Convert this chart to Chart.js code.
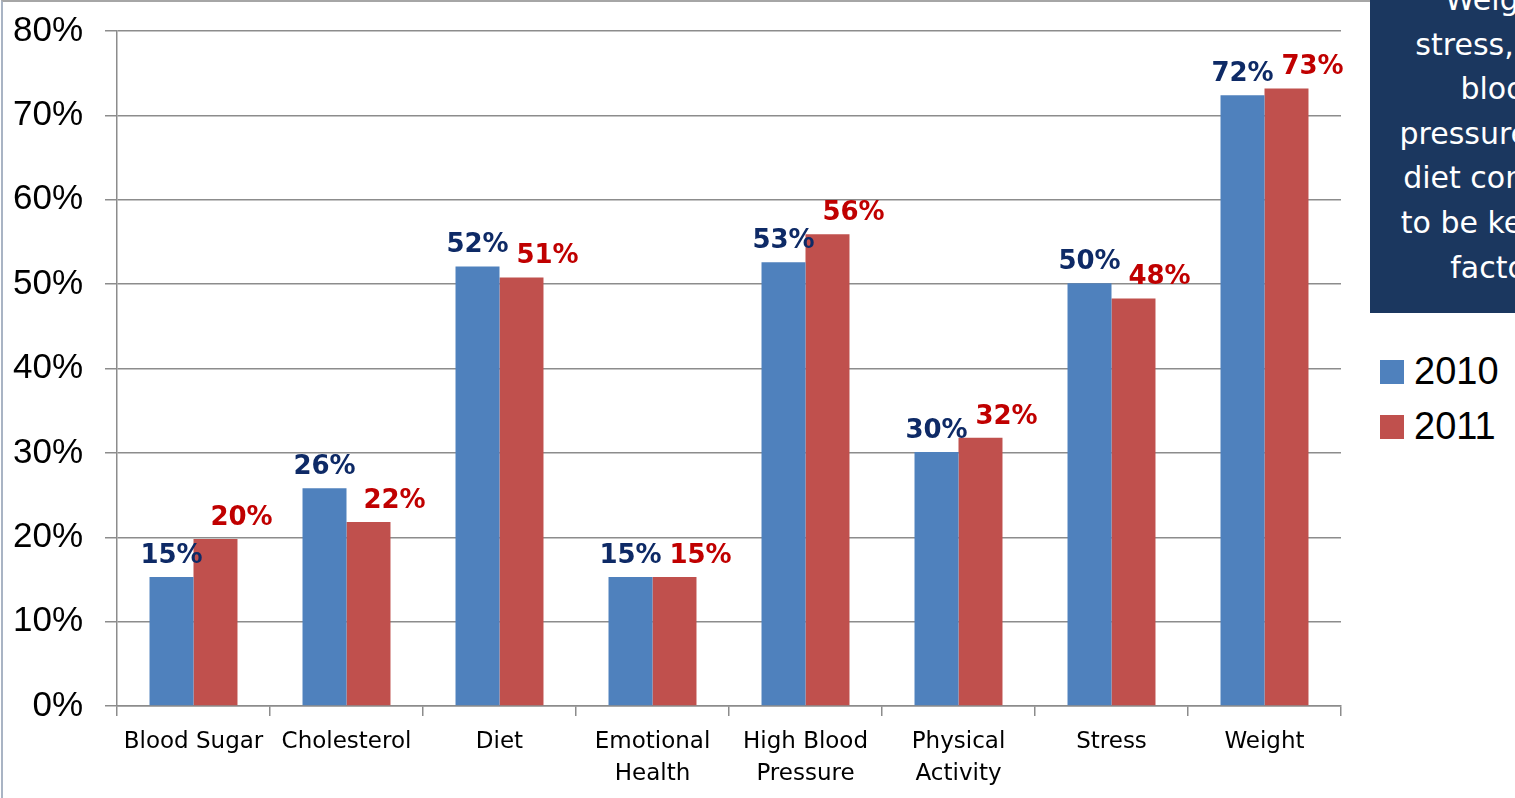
<!DOCTYPE html>
<html>
<head>
<meta charset="utf-8">
<title>Health risk factors 2010 vs 2011</title>
<script src="https://cdn.jsdelivr.net/npm/chart.js@4.4.1/dist/chart.umd.min.js"></script>
<style>
  html, body { margin: 0; padding: 0; background: #fff; overflow: hidden; }
  #wrap { position: relative; width: 1515px; height: 798px; overflow: hidden; }
  #frame {
    position: absolute; left: 1px; top: 0; width: 1400px; height: 798px;
    border-left: 2px solid #a9b4c4; border-top: 2px solid #a6a6a6; box-sizing: border-box;
  }
  #chartBox { position: absolute; left: 0; top: 0; width: 1360px; height: 798px; }
  #note {
    position: absolute; left: 1370px; top: 0; width: 270px; height: 313px;
    background: #1b375f; color: #fff; overflow: hidden;
    font-family: "DejaVu Sans", sans-serif; font-size: 30px;
  }
  #note div { position: absolute; left: -3px; top: -22px; width: 100%; text-align: center; line-height: 44.6px; }
  #legend { position: absolute; left: 1380px; top: 344px; font-family: "Liberation Sans", sans-serif; font-size: 38px; }
  #legend .item { display: flex; align-items: center; height: 55px; }
  #legend .sw { width: 24px; height: 24px; margin-right: 10px; }
</style>
</head>
<body>
<div id="wrap">
  <div id="frame"></div>
  <div id="chartBox"><canvas id="myChart"></canvas></div>
  <div id="note"><div>Weight,<br>stress, high<br>blood<br>pressure, and<br>diet continue<br>to be key risk<br>factors</div></div>
  <div id="legend"></div>
</div>
<script>
// categories and yearly shares (percent)
const categories = [
  ["Blood Sugar"], ["Cholesterol"], ["Diet"], ["Emotional", "Health"],
  ["High Blood", "Pressure"], ["Physical", "Activity"], ["Stress"], ["Weight"]
];
const years = ["2010", "2011"];
const values2010 = [15.3, 25.8, 52.1, 15.3, 52.6, 30.1, 50.1, 72.4];
const values2011 = [19.8, 21.8, 50.8, 15.3, 55.9, 31.8, 48.3, 73.2];
const yTicks = [0, 10, 20, 30, 40, 50, 60, 70, 80];

const barColors = ["#4F81BD", "#C0504D"];
const labelColors = ["#0e2a66", "#c00000"];
const gridColor = "#8c8c8c";

// value labels above each bar; 2011 labels sit a bit to the right
const valueLabels = {
  id: "valueLabels",
  afterDatasetsDraw(chart) {
    const ctx = chart.ctx;
    ctx.save();
    ctx.font = 'bold 26px "DejaVu Sans"';
    ctx.textAlign = "center";
    ctx.textBaseline = "alphabetic";
    chart.data.datasets.forEach((ds, i) => {
      const meta = chart.getDatasetMeta(i);
      const shift = i === 0 ? 0 : 26;
      ctx.fillStyle = labelColors[i];
      meta.data.forEach((bar, j) => {
        ctx.fillText(Math.round(ds.data[j]) + "%", bar.x + shift, bar.y - 14);
      });
    });
    ctx.restore();
  }
};

const ctx = document.getElementById("myChart").getContext("2d");
new Chart(ctx, {
  type: "bar",
  data: {
    labels: categories,
    datasets: [
      { label: years[0], data: values2010, backgroundColor: barColors[0] },
      { label: years[1], data: values2011, backgroundColor: barColors[1] }
    ]
  },
  options: {
    responsive: true,
    maintainAspectRatio: false,
    animation: false,
    devicePixelRatio: 1,
    categoryPercentage: 0.575,
    barPercentage: 1.0,
    layout: { padding: { top: 31, right: 19, left: 0, bottom: 0 } },
    plugins: { legend: { display: false }, tooltip: { enabled: false } },
    scales: {
      x: {
        grid: { display: true, drawOnChartArea: false, drawTicks: true, tickLength: 10, offset: true, color: gridColor, lineWidth: 1.5 },
        border: { display: true, color: gridColor, width: 1.5 },
        ticks: {
          color: "#000", autoSkip: false, maxRotation: 0, padding: 11,
          font: { family: "DejaVu Sans", size: 23, lineHeight: 1.35 }
        },
        afterFit(scale) { scale.height = 92; }
      },
      y: {
        min: yTicks[0],
        max: yTicks[yTicks.length - 1],
        afterBuildTicks(scale) { scale.ticks = yTicks.map(v => ({ value: v })); },
        ticks: {
          color: "#000", padding: 22,
          font: { family: "Liberation Sans", size: 35 },
          callback: v => v + "%"
        },
        grid: { color: gridColor, lineWidth: 1.5, tickLength: 12 },
        border: { color: gridColor, width: 1.5 },
        afterFit(scale) {
          scale.width = 117;
          // let the layout padding alone decide where the plot starts
          scale.paddingTop = 0;
          scale.paddingBottom = 0;
        }
      }
    }
  },
  plugins: [valueLabels]
});

// legend at the right
const legend = document.getElementById("legend");
years.forEach((y, i) => {
  const item = document.createElement("div");
  item.className = "item";
  item.innerHTML = '<span class="sw" style="background:' + barColors[i] + '"></span>' + y;
  legend.appendChild(item);
});
</script>
</body>
</html>
